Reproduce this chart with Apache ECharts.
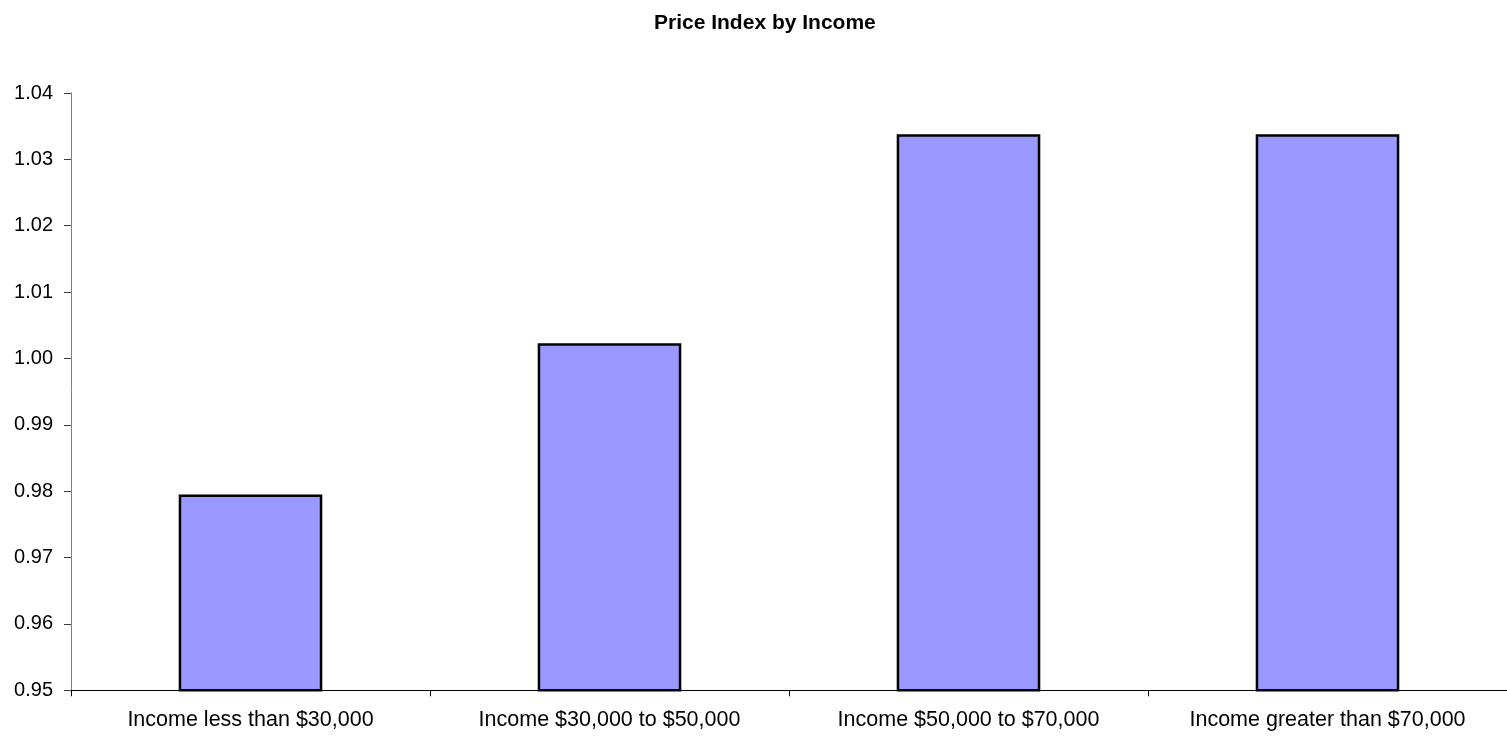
<!DOCTYPE html>
<html>
<head>
<meta charset="utf-8">
<script src="https://cdn.jsdelivr.net/npm/echarts@6/dist/echarts.min.js"></script>
<style>
  html, body { margin: 0; padding: 0; background: #ffffff; }
  #chart { width: 1507px; height: 739px; }
</style>
</head>
<body>
<div id="chart"></div>
<script>
// Income groups and their price index
const categories = [
  'Income less than $30,000',
  'Income $30,000 to $50,000',
  'Income $50,000 to $70,000',
  'Income greater than $70,000'
];
const priceIndex = [0.9795, 1.0023, 1.0338, 1.0338];
const titleText = 'Price Index by Income';

const chart = echarts.init(document.getElementById('chart'), null, { renderer: 'canvas' });

chart.setOption({
  backgroundColor: '#ffffff',
  animation: false,
  title: {
    text: titleText,
    left: 649,
    top: 8,
    textStyle: {
      fontFamily: 'Liberation Sans, Arial, sans-serif',
      fontWeight: 'bold',
      fontSize: 21,
      color: '#000000'
    }
  },
  grid: {
    left: 71,
    top: 93,
    width: 1441,
    bottom: 48.7,
    containLabel: false
  },
  xAxis: {
    type: 'category',
    data: categories,
    axisLine: { show: true, lineStyle: { color: '#000000', width: 1 } },
    axisTick: { show: true, length: 6, lineStyle: { color: '#000000' } },
    axisLabel: {
      margin: 19,
      color: '#000000',
      fontFamily: 'Liberation Sans, Arial, sans-serif',
      fontSize: 21.5
    },
    splitLine: { show: false }
  },
  yAxis: {
    type: 'value',
    min: 0.95,
    max: 1.04,
    interval: 0.01,
    axisLine: { show: true, lineStyle: { color: '#808080', width: 1 } },
    axisTick: { show: true, length: 7, lineStyle: { color: '#404040' } },
    axisLabel: {
      margin: 18,
      color: '#000000',
      fontFamily: 'Liberation Sans, Arial, sans-serif',
      fontSize: 20,
      formatter: v => v.toFixed(2)
    },
    splitLine: { show: false }
  },
  series: [{
    type: 'bar',
    data: priceIndex,
    barWidth: '40%',
    itemStyle: {
      color: '#9999FF',
      borderColor: '#000000',
      borderWidth: 2.5
    }
  }]
});
</script>
</body>
</html>
